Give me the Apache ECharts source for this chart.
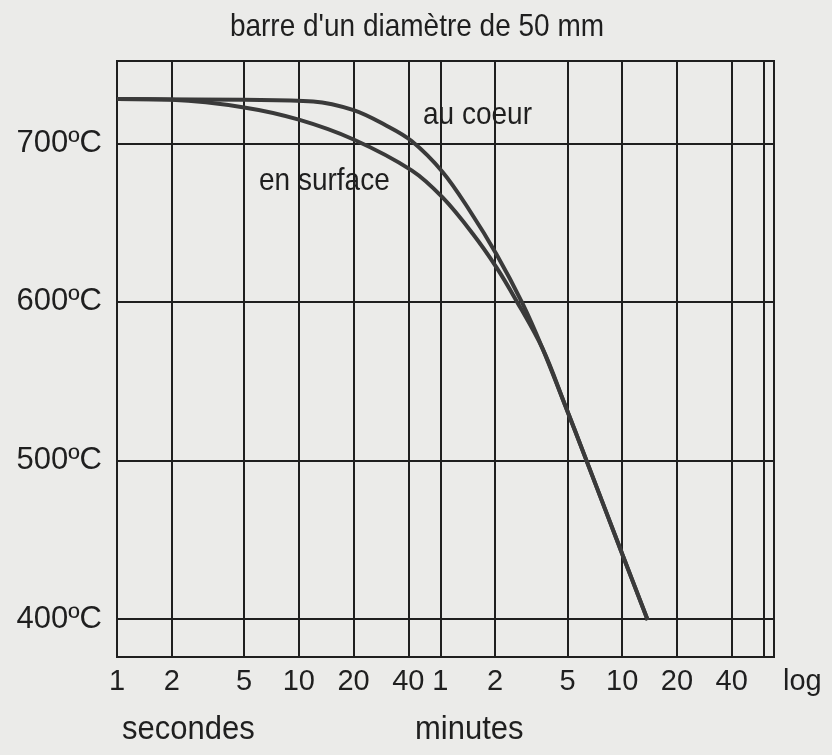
<!DOCTYPE html>
<html><head><meta charset="utf-8">
<script src="https://cdn.jsdelivr.net/npm/echarts@6/dist/echarts.min.js"></script>
<style>html,body{margin:0;padding:0;background:#ebebe9;}#c{width:832px;height:755px;}</style>
</head><body><div id="c"></div>
<script>
// ---- data ----
const timeTicks = [1, 2, 5, 10, 20, 40, 60, 120, 300, 600, 1200, 2400, 3600];
const timeTickLabels = ['1', '2', '5', '10', '20', '40', '1', '2', '5', '10', '20', '40', ''];
const tempTicks = [400, 500, 600, 700];
const tempTickLabels = ['400ºC', '500ºC', '600ºC', '700ºC'];
const surfaceTime = [1, 2, 5, 10, 20, 41.7, 61.7, 90.2, 122.3, 153.7, 219, 289, 373, 603, 828];
const surfaceTemp = [728, 727.5, 722.7, 715, 702.5, 683, 665.9, 643.2, 621.7, 602.7, 570.5, 535.8, 502.9, 440.4, 399.4];
const coreTime = [1, 5, 12, 20, 30, 41.7, 61.7, 86.9, 122.3, 170, 219, 289, 373, 603, 828];
const coreTemp = [728, 727.5, 726.5, 721, 711.5, 701.5, 682, 657.7, 629.9, 598.9, 570.5, 535.8, 502.9, 440.4, 399.4];

const FONT = "'Liberation Sans', Arial, sans-serif";
const INK = '#1f1f1f';
const CURVE = '#3a3a3a';

const pairs = (xs, ys) => xs.map((x, i) => [x, ys[i]]);
const txt = (text, x, y, size, sy, align) => ({
  type: 'text', x: x, y: y, scaleY: sy, z: 10,
  style: {text: text, font: size + 'px ' + FONT, fill: INK, textAlign: align || 'left', textVerticalAlign: 'middle'}
});

const chart = echarts.init(document.getElementById('c'), null, {renderer: 'canvas'});
chart.setOption({
  backgroundColor: '#ebebe9',
  animation: false,
  grid: {left: 117, right: 58, top: 61, bottom: 98, show: true, borderColor: INK, borderWidth: 2, backgroundColor: 'transparent'},
  xAxis: {
    type: 'log', logBase: 10, min: 1, max: 4100,
    name: 'log', nameLocation: 'end', nameGap: 9,
    nameTextStyle: {fontFamily: FONT, fontSize: 29, color: INK, verticalAlign: 'top', padding: [10, 0, 0, 0]},
    axisLine: {show: false},
    axisTick: {show: false, customValues: timeTicks},
    splitLine: {show: true, lineStyle: {color: INK, width: 2}},
    axisLabel: {
      customValues: timeTicks, margin: 10,
      fontFamily: FONT, fontSize: 29, color: INK,
      formatter: v => { const i = timeTicks.indexOf(v); return i >= 0 ? timeTickLabels[i] : ''; }
    }
  },
  yAxis: {
    type: 'value', min: 376, max: 752,
    axisLine: {show: false},
    axisTick: {show: false, customValues: tempTicks},
    splitLine: {show: true, lineStyle: {color: INK, width: 2}},
    axisLabel: {
      customValues: tempTicks, margin: 15,
      fontFamily: FONT, fontSize: 31, color: INK,
      formatter: v => { const i = tempTicks.indexOf(v); return i >= 0 ? tempTickLabels[i] : ''; }
    }
  },
  graphic: [
    txt("barre d'un diamètre de 50 mm", 417, 27, 28, 1.15, 'center'),
    txt('au coeur', 423, 115, 28, 1.15),
    txt('en surface', 259, 181, 28, 1.15),
    txt('secondes', 122, 730, 31, 1.1),
    txt('minutes', 415, 730, 31, 1.1)
  ],
  series: [
    {name: 'en surface', type: 'line', data: pairs(surfaceTime, surfaceTemp), smooth: 0.35,
     showSymbol: false, lineStyle: {color: CURVE, width: 4}, z: 5},
    {name: 'au coeur', type: 'line', data: pairs(coreTime, coreTemp), smooth: 0.35,
     showSymbol: false, lineStyle: {color: CURVE, width: 4}, z: 5}
  ]
});
</script></body></html>
